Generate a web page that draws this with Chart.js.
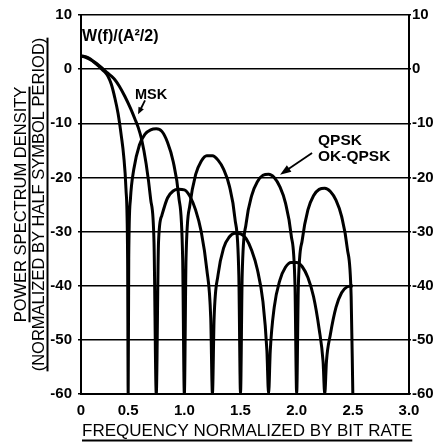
<!DOCTYPE html>
<html><head><meta charset="utf-8">
<script src="https://cdn.jsdelivr.net/npm/chart.js@4.4.1/dist/chart.umd.min.js"></script>
<style>html,body{margin:0;padding:0;background:#fff;}canvas{display:block;}</style>
</head><body>
<canvas id="c" width="438" height="444"></canvas>
<script>
// ---- data ----
const qpskFreq = [0.08,0.12,0.16,0.2,0.25,0.29,0.32,0.35,0.38,0.41,0.44,0.46,0.48,0.495,0.5,
  0.505,0.52,0.55,0.6,0.65,0.7,0.75,0.8,0.85,0.9,0.95,0.985,1.0,
  1.015,1.05,1.1,1.15,1.2,1.25,1.3,1.35,1.4,1.45,1.485,1.5,
  1.515,1.55,1.6,1.65,1.7,1.75,1.8,1.85,1.9,1.95,1.985,2.0,
  2.015,2.05,2.1,2.15,2.2,2.25,2.3,2.35,2.4,2.45,2.485,2.5];
const qpskDb = [2.5,2.3,1.9,1.2,0.3,-0.5,-1.3,-2.8,-5.2,-8.2,-12.5,-16,-22,-35,-60,
  -35,-24,-18.5,-14,-12,-11.2,-11,-11.5,-13.5,-17,-23.5,-35,-60,
  -35,-25,-19.5,-17,-16,-16,-16.8,-18.5,-21.5,-27.5,-38,-60,
  -38,-28.5,-23.3,-20.8,-19.6,-19.4,-20,-21.7,-24.7,-30.5,-40,-60,
  -40,-31.5,-26,-23.4,-22.2,-22,-22.6,-24.2,-27.2,-33,-42,-60];
const mskFreq = [0.08,0.12,0.16,0.2,0.25,0.3,0.35,0.38,0.42,0.47,0.52,0.56,0.59,0.62,0.66,0.7,0.73,0.75,
  0.77,0.8,0.85,0.9,0.95,1.0,1.05,1.1,1.15,1.2,1.235,1.25,
  1.265,1.3,1.35,1.4,1.45,1.5,1.55,1.6,1.65,1.7,1.735,1.75,
  1.765,1.8,1.85,1.9,1.95,2.0,2.05,2.1,2.15,2.2,2.235,2.25,
  2.265,2.3,2.35,2.4,2.45,2.5];
const mskDb = [2.4,2.2,1.8,1.3,0.5,-0.4,-1.3,-1.9,-3.1,-5,-7.2,-9.2,-10.8,-13,-17.5,-24,-32,-60,
  -32,-27,-23.8,-22.5,-22.2,-22.3,-23.5,-26,-30,-37,-46,-60,
  -46,-38,-33,-31,-30.3,-30.4,-31.3,-33.5,-37,-43,-52,-60,
  -52,-44,-39,-36.6,-35.7,-35.7,-36.5,-38.5,-42,-48,-54,-60,
  -54,-49,-44,-41.3,-40.2,-40];
const yTicks = [10,0,-10,-20,-30,-40,-50,-60];
const xTickValues = [0.08,0.5,1.0,1.5,2.0,2.5,3.0];
const xTickLabels = ["0","0.5","1.0","1.5","2.0","2.5","3.0"];
const seriesNames = ["QPSK / OK-QPSK","MSK"];
const yTitleLines = ["POWER SPECTRUM DENSITY","(NORMALIZED BY HALF SYMBOL PERIOD)"];
const xTitle = "FREQUENCY NORMALIZED BY BIT RATE";
const unitLabel = "W(f)/(A\u00B2/2)";
const mskLabel = "MSK";
const qpskLabels = ["QPSK","OK-QPSK"];

// ---- drawing ----
const FAMILY = '"Liberation Sans",sans-serif';
const TITLE_SIZE = 16.5;
function drawLabel(ctx, text, x, y, size, weight) {
  ctx.save();
  ctx.font = (weight || 'bold') + ' ' + size + 'px ' + FAMILY;
  ctx.fillStyle = '#000';
  ctx.textAlign = 'left';
  ctx.textBaseline = 'alphabetic';
  ctx.fillText(text, x, y);
  const w = ctx.measureText(text).width;
  ctx.restore();
  return w;
}
function arrow(ctx, x1, y1, x2, y2, head, hw) {
  const a = Math.atan2(y2 - y1, x2 - x1);
  ctx.save();
  ctx.strokeStyle = '#000'; ctx.fillStyle = '#000'; ctx.lineWidth = 1.8;
  ctx.beginPath(); ctx.moveTo(x1, y1);
  ctx.lineTo(x2 - Math.cos(a) * head * 0.8, y2 - Math.sin(a) * head * 0.8); ctx.stroke();
  ctx.beginPath(); ctx.moveTo(x2, y2);
  ctx.lineTo(x2 - Math.cos(a) * head + Math.sin(a) * hw, y2 - Math.sin(a) * head - Math.cos(a) * hw);
  ctx.lineTo(x2 - Math.cos(a) * head - Math.sin(a) * hw, y2 - Math.sin(a) * head + Math.cos(a) * hw);
  ctx.closePath(); ctx.fill();
  ctx.restore();
}
const textPlugin = {
  id: 'texts',
  afterDraw(chart) {
    const ctx = chart.ctx, xs = chart.scales.x, ys = chart.scales.y;
    const X = v => xs.getPixelForValue(v), Y = v => ys.getPixelForValue(v);
    const midY = (chart.chartArea.top + chart.chartArea.bottom) / 2;
    ctx.save();
    ctx.fillStyle = '#000';
    // underlines of the y-axis title lines
    ctx.font = 'normal ' + TITLE_SIZE + 'px ' + FAMILY;
    const w1 = ctx.measureText(yTitleLines[0]).width;
    const w2 = ctx.measureText(yTitleLines[1]).width;
    ctx.fillRect(28.5, midY - w1 / 2, 2, w1);
    ctx.fillRect(46.5, midY - w2 / 2, 2, w2);
    // x-axis title (underlined)
    const wx = drawLabel(ctx, xTitle, 82, 436, 17, 'normal');
    ctx.fillRect(82, 439.5, wx, 2);
    // annotations
    drawLabel(ctx, unitLabel, X(0.09), Y(5.24), 16);
    drawLabel(ctx, mskLabel, X(0.561), Y(-5.58), 14.5);
    arrow(ctx, X(0.65), Y(-5.76), X(0.588), Y(-8.33), 7, 3);
    drawLabel(ctx, qpskLabels[0], X(2.19), Y(-14.0), 15.5);
    drawLabel(ctx, qpskLabels[1], X(2.19), Y(-16.94), 15.5);
    arrow(ctx, X(2.137), Y(-15.47), X(1.852), Y(-19.5), 11, 4);
    ctx.restore();
  }
};

const tickFont = {family: FAMILY, size: 15, weight: 'bold'};
new Chart(document.getElementById('c'), {
  type: 'line',
  data: {
    datasets: [
      {label: seriesNames[0], data: qpskFreq.map((f, i) => ({x: f, y: qpskDb[i]})),
       borderColor: '#000', borderWidth: 3, pointRadius: 0, cubicInterpolationMode: 'monotone', fill: false},
      {label: seriesNames[1], data: mskFreq.map((f, i) => ({x: f, y: mskDb[i]})),
       borderColor: '#000', borderWidth: 3, pointRadius: 0, cubicInterpolationMode: 'monotone', fill: false}
    ]
  },
  options: {
    responsive: false, animation: false, devicePixelRatio: 1,
    layout: {padding: {top: 12, left: 0, right: 0, bottom: 0}},
    plugins: {legend: {display: false}, tooltip: {enabled: false}},
    scales: {
      x: {
        type: 'linear', min: xTickValues[0], max: xTickValues[xTickValues.length - 1],
        afterBuildTicks: s => { s.ticks = xTickValues.map(v => ({value: v})); },
        afterFit: s => { s.height = 50; },
        ticks: {color: '#000', font: tickFont, padding: 0, maxRotation: 0, autoSkip: false,
          callback: (v, i) => xTickLabels[i]},
        grid: {display: false},
        border: {display: true, color: '#000', width: 2}
      },
      y: {
        position: 'left', min: -60, max: 10,
        afterBuildTicks: s => { s.ticks = yTicks.map(v => ({value: v})); },
        afterFit: s => { s.width = 81; },
        title: {display: true, text: yTitleLines, color: '#000',
          font: {family: FAMILY, size: TITLE_SIZE, weight: 'normal', lineHeight: 1.05}, padding: {top: 13, bottom: 0}},
        ticks: {color: '#000', font: tickFont, padding: 6, callback: v => String(v)},
        grid: {color: '#000', lineWidth: 1.5, tickLength: 3, drawTicks: true},
        border: {display: true, color: '#000', width: 2}
      },
      y2: {
        position: 'right', min: -60, max: 10,
        afterBuildTicks: s => { s.ticks = yTicks.map(v => ({value: v})); },
        afterFit: s => { s.width = 29; },
        ticks: {color: '#000', font: tickFont, padding: 1, callback: v => String(v)},
        grid: {drawOnChartArea: false, color: '#000', lineWidth: 1.5, tickLength: 2},
        border: {display: true, color: '#000', width: 2}
      }
    }
  },
  plugins: [textPlugin]
});
</script>
</body></html>
